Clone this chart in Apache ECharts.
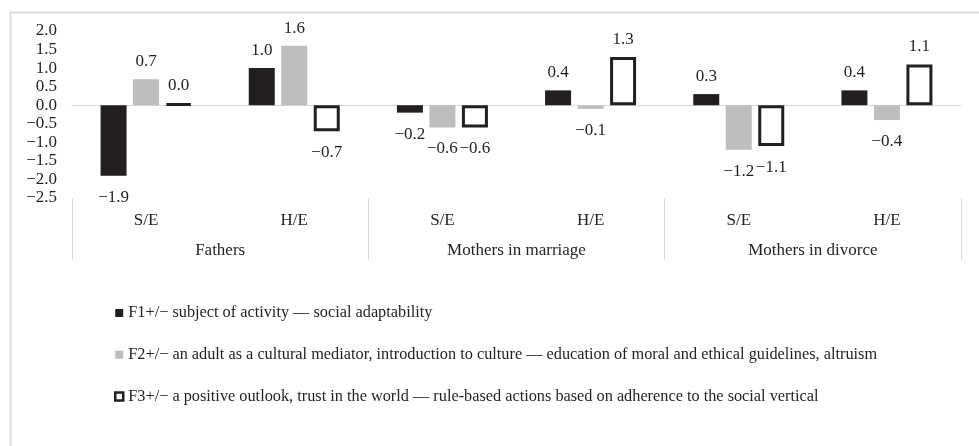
<!DOCTYPE html>
<html>
<head>
<meta charset="utf-8">
<script src="https://cdn.jsdelivr.net/npm/echarts@6/dist/echarts.min.js"></script>
<style>
html,body{margin:0;padding:0;background:#fff;}
#chart{width:979px;height:446px;}
</style>
</head>
<body>
<div id="chart"></div>
<script>
const subCategories = ['S/E', 'H/E', 'S/E', 'H/E', 'S/E', 'H/E'];
const groups = ['Fathers', 'Mothers in marriage', 'Mothers in divorce'];
const seriesNames = [
  'F1+/\u2212 subject of activity \u2014 social adaptability',
  'F2+/\u2212 an adult as a cultural mediator, introduction to culture \u2014 education of moral and ethical guidelines, altruism',
  'F3+/\u2212 a positive outlook, trust in the world \u2014 rule-based actions based on adherence to the social vertical'
];
const f1Values = [-1.9, 1.0, -0.2, 0.4, 0.3, 0.4];
const f2Values = [0.7, 1.6, -0.6, -0.1, -1.2, -0.4];
const f3Values = [0.04, -0.7, -0.6, 1.3, -1.1, 1.1];
const yMin = -2.5, yMax = 2.0, yStep = 0.5;

const FONT = 'Liberation Serif';
const TXT = '#231f20';
const fmt = v => {
  const s = Number(v).toFixed(1);
  return s.replace('-', '\u2212');
};
function items(arr) {
  return arr.map(v => ({
    value: v,
    label: { position: v < 0 ? 'bottom' : 'top', distance: v < 0 ? 13 : 9 }
  }));
}
const labelBase = {
  show: true, fontFamily: FONT, fontSize: 17, color: TXT,
  formatter: p => fmt(p.value)
};

const chart = echarts.init(document.getElementById('chart'));
chart.setOption({
  animation: false,
  backgroundColor: '#fff',
  graphic: [{
    type: 'rect', left: 8, top: 10, silent: true,
    shape: { x: 0, y: 0, width: 1000, height: 500 },
    style: { fill: 'none', stroke: '#dcdcdc', lineWidth: 2 }
  }],
  grid: { left: 72, right: 18, top: 31, height: 167, containLabel: false },
  legend: {
    orient: 'vertical', left: 114, top: 305, padding: 0,
    itemWidth: 8, itemHeight: 8, itemGap: 25.7,
    icon: 'rect',
    textStyle: { fontFamily: FONT, fontSize: 16.3, color: TXT, lineHeight: 16 },
    data: [
      { name: seriesNames[0] },
      { name: seriesNames[1] },
      { name: seriesNames[2], itemStyle: { color: '#ffffff', borderColor: '#231f20', borderWidth: 2.5 } }
    ]
  },
  xAxis: [
    {
      type: 'category', data: subCategories, position: 'bottom',
      axisLine: { show: true, onZero: true, lineStyle: { color: '#d9d9d9', width: 1 } },
      axisTick: { show: false }, axisLabel: { show: false }
    },
    {
      type: 'category', data: subCategories, position: 'bottom',
      axisLine: { show: false, onZero: false }, axisTick: { show: false },
      axisLabel: { interval: 0, margin: 14, fontFamily: FONT, fontSize: 17, color: TXT }
    },
    {
      type: 'category', data: groups, position: 'bottom',
      axisLine: { show: false, onZero: false },
      axisTick: { show: true, interval: 0, length: 62, lineStyle: { color: '#d9d9d9', width: 1 } },
      axisLabel: { interval: 0, margin: 44, fontFamily: FONT, fontSize: 17, color: TXT }
    }
  ],
  yAxis: {
    type: 'value', min: yMin, max: yMax, interval: yStep,
    axisLine: { show: false }, axisTick: { show: false }, splitLine: { show: false },
    axisLabel: { margin: 15, fontFamily: FONT, fontSize: 17, color: TXT, formatter: v => fmt(v) }
  },
  series: [
    {
      name: seriesNames[0], type: 'bar', xAxisIndex: 0, data: items(f1Values),
      barWidth: 26, barGap: '25%',
      itemStyle: { color: '#231f20' }, label: labelBase
    },
    {
      name: seriesNames[1], type: 'bar', xAxisIndex: 0, data: items(f2Values),
      barWidth: 26, barGap: '25%',
      itemStyle: { color: '#bcbec0' }, label: labelBase
    },
    {
      name: seriesNames[2], type: 'bar', xAxisIndex: 0, data: items(f3Values),
      barWidth: 26, barGap: '25%',
      itemStyle: { color: '#ffffff', borderColor: '#231f20', borderWidth: 3 }, label: labelBase
    }
  ]
});
</script>
</body>
</html>
